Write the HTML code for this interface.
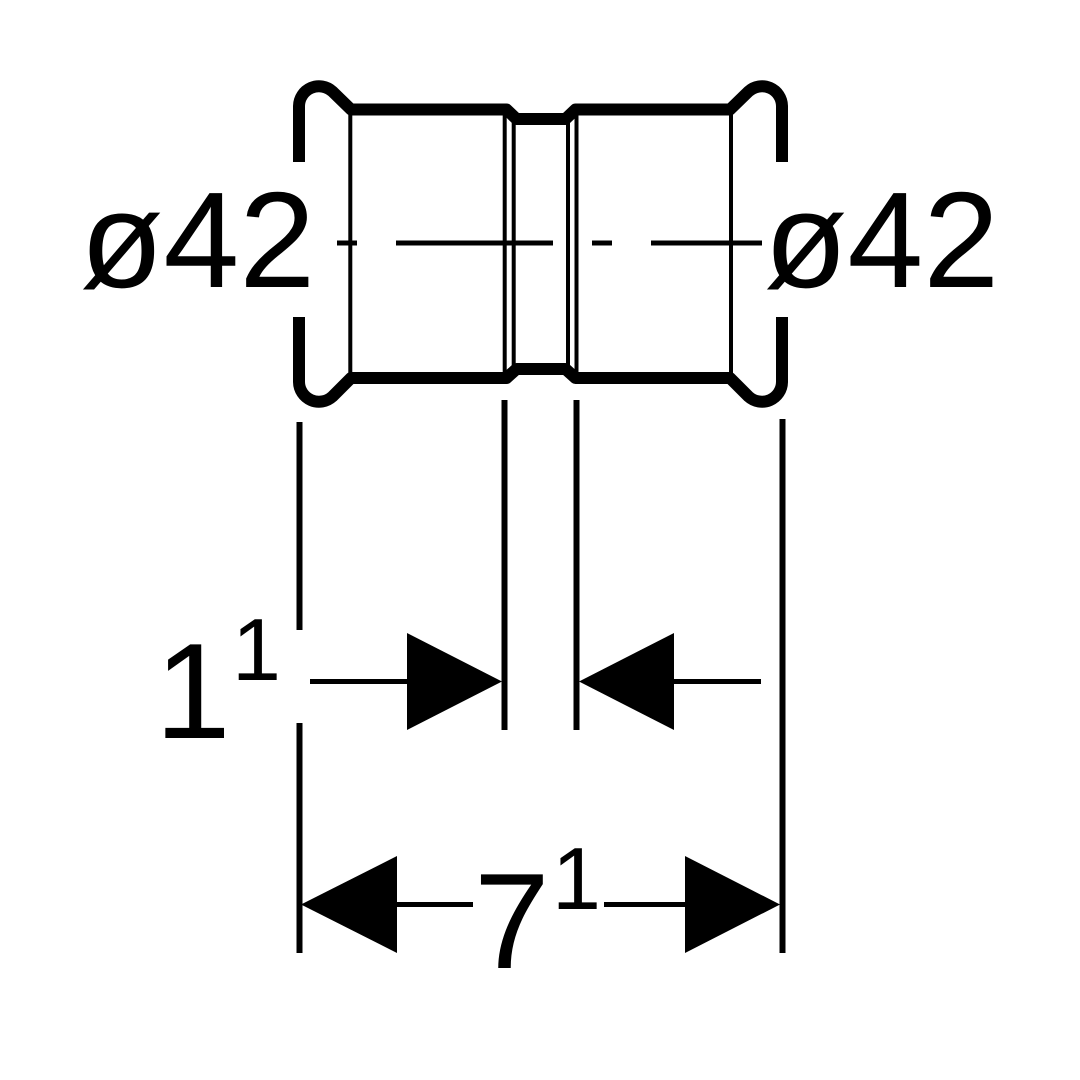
<!DOCTYPE html>
<html><head><meta charset="utf-8"><style>
html,body{margin:0;padding:0;background:#fff}
svg{display:block}
text{font-family:"Liberation Sans",sans-serif;fill:#000}
</style></head><body>
<svg width="1080" height="1080" viewBox="0 0 1080 1080" xmlns="http://www.w3.org/2000/svg">
<rect width="1080" height="1080" fill="#fff"/>
<g fill="none" stroke="#000" stroke-width="4">
<path d="M350.300 113V375M504.700 113V375M513.700 122V366M568 122V366M576.500 113V375M731 113V375"/>
</g>
<g fill="none" stroke="#000" stroke-width="12" stroke-linejoin="round">
<path d="M299 162V106A20 20 0 0 1 332.500 91.500L351 109.500H506.500L516.500 119H565.500L575.500 109.500H730L748.500 91.500A20 20 0 0 1 782 106V162"/>
<path d="M299 317V382A20 20 0 0 0 332.500 396.500L351 378H506.500L516.500 369H565.500L575.500 378H730L748.500 396.500A20 20 0 0 0 782 382V317"/>
</g>
<g fill="none" stroke="#000" stroke-width="5">
<path d="M337 243H357M396 243H553M592 243H612M651 243H762"/>
</g>
<g fill="none" stroke="#000" stroke-width="6">
<path d="M299.500 422V630M299.500 723V953M504.500 400V730M576.500 400V730M782.500 419V953"/>
</g>
<g fill="none" stroke="#000" stroke-width="5">
<path d="M310 681.500H407M674 681.500H761M397 904.500H473M604 904.500H685"/>
</g>
<g fill="#000">
<polygon points="407,633 502,681.500 407,730"/>
<polygon points="579,681.500 674,633 674,730"/>
<polygon points="301,904.500 397,856 397,953"/>
<polygon points="780,904.500 685,856 685,953"/>
</g>
<text x="80" y="287" font-size="136.500">ø42</text>
<text x="764" y="287" font-size="136.500">ø42</text>
<text x="155" y="738" font-size="136">1</text>
<text x="232" y="680" font-size="88">1</text>
<text x="474" y="968" font-size="136">7</text>
<text x="552" y="909" font-size="88">1</text>
</svg>
</body></html>
